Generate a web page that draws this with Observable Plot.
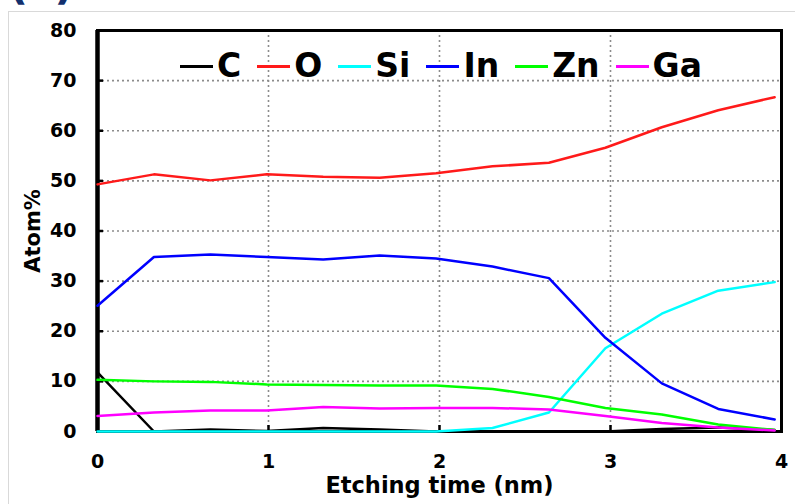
<!DOCTYPE html>
<html><head><meta charset="utf-8">
<script src="https://cdn.jsdelivr.net/npm/d3@7"></script>
<script src="https://cdn.jsdelivr.net/npm/@observablehq/plot@0.6"></script>
<style>
body{margin:0;background:#fff;font-family:"DejaVu Sans",Verdana,sans-serif;}
#wrap{position:relative;width:795px;height:504px;overflow:hidden;background:#fff;}
#outer{position:absolute;left:8px;top:11px;width:800px;height:500px;border-top:1px solid #d9d9d9;border-left:1px solid #d9d9d9;}
#tag{position:absolute;left:8px;top:-38px;font-size:44px;font-weight:bold;color:#12306e;line-height:44px;}
#chart{position:absolute;left:0;top:0;}
#legend{position:absolute;left:180px;top:47px;display:flex;align-items:center;font-size:33px;font-weight:bold;line-height:38px;color:#000;}
#legend .item{display:flex;align-items:center;margin-right:16px;}
#legend .sw{display:inline-block;width:33px;height:3px;margin-right:4px;}
</style></head><body>
<div id="wrap"><div id="outer"></div><div id="tag">(c)</div><div id="chart"></div><div id="legend"></div></div>
<script>
const times = [0, 0.33, 0.66, 0.99, 1.32, 1.65, 1.98, 2.31, 2.64, 2.97, 3.30, 3.63, 3.96];
const elements = ["C", "O", "Si", "In", "Zn", "Ga"];
const colors = ["#000000", "#ff1a1a", "#00ffff", "#0000ff", "#00ff00", "#ff00ff"];
const C  = [11.8, 0, 0.4, 0.1, 0.7, 0.4, 0, 0, 0, 0, 0.5, 0.8, 0.3];
const O  = [49.3, 51.3, 50.1, 51.3, 50.8, 50.6, 51.5, 52.9, 53.6, 56.6, 60.7, 64.1, 66.7];
const Si = [0, 0, 0, 0, 0, 0, 0, 0.7, 3.8, 16.6, 23.5, 28.1, 29.8];
const In = [25.1, 34.8, 35.3, 34.8, 34.3, 35.1, 34.5, 32.9, 30.6, 18.7, 9.6, 4.5, 2.4];
const Zn = [10.3, 10.0, 9.9, 9.4, 9.3, 9.2, 9.2, 8.5, 6.9, 4.7, 3.4, 1.4, 0.3];
const Ga = [3.1, 3.8, 4.2, 4.2, 4.9, 4.6, 4.7, 4.7, 4.4, 3.1, 1.7, 0.8, 0.2];
const yTicks = [0, 10, 20, 30, 40, 50, 60, 70, 80];
const xTicks = [0, 1, 2, 3, 4];
const xTitle = "Etching time (nm)";
const yTitle = "Atom%";

const series = {C, O, Si, In, Zn, Ga};
const rows = elements.flatMap(el => times.map((t, i) => ({el, t, v: series[el][i]})));

const gridStyle = {stroke: "#8c8c8c", strokeOpacity: 1, strokeDasharray: "2,3", strokeWidth: 1.6};
const chart = Plot.plot({
  width: 795, height: 504,
  marginLeft: 97, marginRight: 14, marginTop: 30, marginBottom: 73,
  style: {fontFamily: "'DejaVu Sans', Verdana, sans-serif", fontWeight: "bold", fontSize: "19px", color: "#000", background: "transparent", overflow: "visible"},
  x: {domain: [0, 4], label: null},
  y: {domain: [0, 80], label: null},
  color: {domain: elements, range: colors},
  marks: [
    Plot.gridY(yTicks.slice(1, -1), gridStyle),
    Plot.gridX(xTicks.slice(1, -1), gridStyle),
    Plot.axisY(yTicks, {tickSize: 0, tickPadding: 21, fontSize: 19, fontWeight: "bold", label: null, tickFormat: d => String(d)}),
    Plot.axisY(yTicks.slice(1, -1), {tickSize: 6, dx: 6, text: null, strokeWidth: 2.5, label: null}),
    Plot.axisX(xTicks, {tickSize: 0, tickPadding: 23, fontSize: 19, fontWeight: "bold", label: null, tickFormat: d => String(d)}),
    Plot.axisX(xTicks.slice(1, -1), {tickSize: 6, dy: -6, text: null, strokeWidth: 2.5, label: null}),
    Plot.frame({stroke: "#000", strokeWidth: 3}),
    Plot.ruleX([0], {stroke: "#000", strokeWidth: 4.5}),
    Plot.lineY(rows, {x: "t", y: "v", z: "el", stroke: "el", strokeWidth: 2.5}),
    Plot.text([yTitle], {frameAnchor: "left", textAnchor: "middle", rotate: -90, dx: -64, fontSize: 21, fontWeight: "bold", fill: "#000"}),
    Plot.text([xTitle], {frameAnchor: "bottom", textAnchor: "middle", dy: 61, fontSize: 22.5, fontWeight: "bold", fill: "#000"})
  ]
});
document.getElementById("chart").appendChild(chart);

const legend = document.getElementById("legend");
elements.forEach((el, i) => {
  const item = document.createElement("div");
  item.className = "item";
  const sw = document.createElement("span");
  sw.className = "sw";
  sw.style.background = colors[i];
  const lab = document.createElement("span");
  lab.textContent = el;
  item.appendChild(sw);
  item.appendChild(lab);
  legend.appendChild(item);
});
</script>
</body></html>
